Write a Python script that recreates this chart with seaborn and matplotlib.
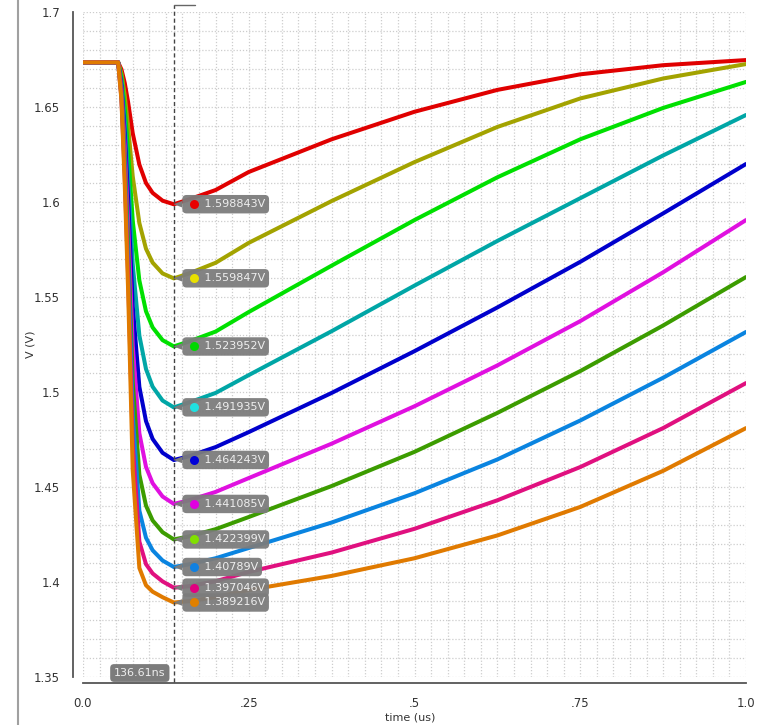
import matplotlib
matplotlib.use('Agg')
import matplotlib.pyplot as plt
import matplotlib.transforms as mtransforms
from matplotlib.lines import Line2D
from matplotlib.ticker import MultipleLocator, FixedLocator, FixedFormatter
import seaborn as sns
import numpy as np
import pandas as pd

sns.set_style('white')
plt.rcParams['font.family'] = ['DejaVu Sans']

# tidspunkter (us) - fælles for alle kurver
times = [0.0, 0.053, 0.058, 0.063, 0.068, 0.075, 0.085, 0.095, 0.105, 0.12,
         0.137, 0.16, 0.2, 0.25, 0.375, 0.5, 0.625, 0.75, 0.875, 1.0]

red = [1.6735, 1.6735, 1.6698, 1.6626, 1.6526, 1.6362, 1.6197, 1.6100, 1.6048, 1.6007,
       1.5988, 1.6014, 1.6063, 1.6158, 1.6330, 1.6475, 1.6590, 1.6672, 1.6720, 1.6747]
olive = [1.6735, 1.6735, 1.6676, 1.6559, 1.6398, 1.6135, 1.5889, 1.5754, 1.5681, 1.5624,
         1.5598, 1.5624, 1.5680, 1.5785, 1.6005, 1.6210, 1.6395, 1.6545, 1.6650, 1.6726]
green = [1.6735, 1.6735, 1.6654, 1.6490, 1.6270, 1.5902, 1.5587, 1.5425, 1.5340, 1.5273,
         1.5240, 1.5266, 1.5318, 1.5421, 1.5665, 1.5905, 1.6130, 1.6330, 1.6495, 1.6632]
cyan = [1.6735, 1.6735, 1.6631, 1.6421, 1.6141, 1.5673, 1.5297, 1.5121, 1.5028, 1.4955,
        1.4919, 1.4945, 1.4995, 1.5089, 1.5320, 1.5560, 1.5795, 1.6020, 1.6245, 1.6458]
blue = [1.6735, 1.6735, 1.6612, 1.6354, 1.6019, 1.5452, 1.5027, 1.4847, 1.4753, 1.4680,
        1.4642, 1.4662, 1.4710, 1.4789, 1.4995, 1.5215, 1.5445, 1.5685, 1.5940, 1.6200]
magenta = [1.6735, 1.6735, 1.6593, 1.6291, 1.5903, 1.5243, 1.4783, 1.4606, 1.4520, 1.4450,
           1.4411, 1.4430, 1.4474, 1.4547, 1.4728, 1.4925, 1.5140, 1.5373, 1.5630, 1.5905]
dkgreen = [1.6735, 1.6735, 1.6577, 1.6233, 1.5798, 1.5053, 1.4565, 1.4402, 1.4324, 1.4262,
           1.4224, 1.4240, 1.4278, 1.4342, 1.4505, 1.4685, 1.4890, 1.5110, 1.5350, 1.5605]
ltblue = [1.6735, 1.6735, 1.6560, 1.6180, 1.5702, 1.4881, 1.4376, 1.4233, 1.4167, 1.4113,
          1.4079, 1.4093, 1.4125, 1.4179, 1.4313, 1.4467, 1.4645, 1.4850, 1.5075, 1.5316]
pink = [1.6735, 1.6735, 1.6547, 1.6132, 1.5618, 1.4725, 1.4213, 1.4094, 1.4045, 1.4003,
        1.3970, 1.3978, 1.4004, 1.4053, 1.4155, 1.4280, 1.4430, 1.4605, 1.4810, 1.5047]
orange = [1.6735, 1.6735, 1.6536, 1.6090, 1.5541, 1.4589, 1.4074, 1.3983, 1.3949, 1.3920,
          1.3892, 1.3899, 1.3920, 1.3958, 1.4032, 1.4125, 1.4245, 1.4395, 1.4585, 1.4810]

series = [red, olive, green, cyan, blue, magenta, dkgreen, ltblue, pink, orange]
names = ['red', 'olive', 'green', 'cyan', 'blue', 'magenta', 'dkgreen', 'ltblue', 'pink', 'orange']
line_colors = ['#e00000', '#a3a300', '#00e000', '#00a6a6', '#0000cc',
               '#e010e0', '#3c9c00', '#0a84e0', '#e0107f', '#e07a00']
dot_colors = ['#e80000', '#e8e000', '#00d800', '#20e0e0', '#0000d8',
              '#e000e0', '#80e000', '#1080e0', '#e0007f', '#e08000']

# markør-aflæsninger
cursor_t = 0.13661
cursor_text = '136.61ns'
marker_labels = ['1.598843V', '1.559847V', '1.523952V', '1.491935V', '1.464243V',
                 '1.441085V', '1.422399V', '1.40789V', '1.397046V', '1.389216V']

x_major = [0.0, 0.25, 0.5, 0.75, 1.0]
x_major_labels = ['0.0', '.25', '.5', '.75', '1.0']
y_major = [1.35, 1.4, 1.45, 1.5, 1.55, 1.6, 1.65, 1.7]
y_major_labels = ['1.35', '1.4', '1.45', '1.5', '1.55', '1.6', '1.65', '1.7']

df = pd.DataFrame({
    'time': np.tile(times, len(series)),
    'V': np.concatenate(series),
    'curve': np.repeat(names, len(times)),
})

px = 72 / 100  # punkter pr. pixel ved dpi=100

fig = plt.figure(figsize=(7.6, 7.25), dpi=100)
ax = fig.add_axes([83 / 760, 1 - 677 / 725, 663 / 760, 665 / 725])

sns.lineplot(data=df, x='time', y='V', hue='curve', hue_order=names,
             palette=dict(zip(names, line_colors)), linewidth=2.9,
             estimator=None, sort=False, legend=False, ax=ax, zorder=3)

ax.set_xlim(0, 1.0)
ax.set_ylim(1.35, 1.7)

# akser og gitter
ax.xaxis.set_major_locator(FixedLocator(x_major))
ax.xaxis.set_major_formatter(FixedFormatter(x_major_labels))
ax.xaxis.set_minor_locator(MultipleLocator(0.025))
ax.yaxis.set_major_locator(FixedLocator(y_major))
ax.yaxis.set_major_formatter(FixedFormatter(y_major_labels))
ax.yaxis.set_minor_locator(MultipleLocator(0.01))
ax.grid(which='both', linestyle=(0, (1, 1.5)), color='#cdcdcd', linewidth=0.9)
ax.set_axisbelow(True)

for side in ['top', 'right']:
    ax.spines[side].set_visible(False)
ax.spines['left'].set_position(('outward', 10 * px))
ax.spines['bottom'].set_position(('outward', 6 * px))
for side in ['left', 'bottom']:
    ax.spines[side].set_color('#555555')
    ax.spines[side].set_linewidth(1.3)

ax.tick_params(axis='y', which='major', length=5 * px, width=1.2, color='#555555',
               labelsize=8.5, labelcolor='#333333', pad=8 * px)
ax.tick_params(axis='y', which='minor', length=3 * px, width=1.0, color='#555555')
ax.tick_params(axis='x', which='major', length=6 * px, width=1.2, color='#555555',
               labelsize=8.5, labelcolor='#333333', pad=8 * px)
ax.tick_params(axis='x', which='minor', length=4 * px, width=1.0, color='#555555')

ax.set_xlabel('time (us)', fontsize=8, color='#333333')
ax.set_ylabel('V (V)', fontsize=8, color='#333333')
ax.xaxis.set_label_coords(0.493, -0.054)
ax.yaxis.set_label_coords(-0.072, 0.5)

# lodret markør
trans_x = ax.get_xaxis_transform()
ax.plot([cursor_t, cursor_t], [-0.007, 1.011], transform=trans_x, color='#444444',
        linewidth=1.0, linestyle=(0, (3, 2)), clip_on=False, zorder=5)
ax.plot([cursor_t, cursor_t + 0.033], [1.0105, 1.0105], transform=trans_x,
        color='#666666', linewidth=1.0, clip_on=False, zorder=5)
ax.annotate(cursor_text, xy=(cursor_t, 1.35), xytext=(-8, -1), textcoords='offset pixels',
            ha='right', va='bottom', fontsize=8, color='#eeeeee',
            bbox=dict(boxstyle='round,pad=0.35', fc='#7c7c7c', ec='none'), zorder=6)

# mærkater ved markøren
dot_trans = mtransforms.offset_copy(ax.transData, fig=fig, x=20, y=0, units='dots')
for lab, dc in zip(marker_labels, dot_colors):
    v = float(lab.rstrip('V'))
    ax.annotate('     ' + lab, xy=(cursor_t, v), xytext=(13, 0), textcoords='offset pixels',
                ha='left', va='center', fontsize=8, color='#eeeeee',
                bbox=dict(boxstyle='round,pad=0.38', fc='#7c7c7c', ec='none', alpha=0.95),
                arrowprops=dict(arrowstyle='wedge,tail_width=0.6,shrink_factor=0.5',
                                fc='#7c7c7c', ec='none', relpos=(0, 0.5),
                                shrinkA=0, shrinkB=0),
                zorder=6)
    ax.plot([cursor_t], [v], 'o', ms=6.5, color=dc, mec='none',
            transform=dot_trans, zorder=7, clip_on=False)

# vinduesramme til venstre
fig.add_artist(Line2D([18 / 760, 18 / 760], [0, 1], color='#a0a0a0', linewidth=1.5))

fig.savefig('out.png', dpi=100)
